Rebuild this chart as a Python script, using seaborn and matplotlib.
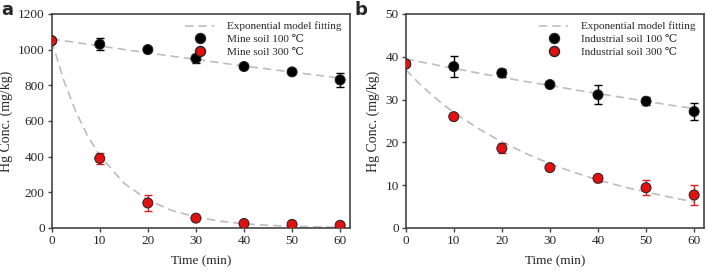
import matplotlib
matplotlib.use("Agg")
import matplotlib.pyplot as plt
import seaborn as sns
import pandas as pd
from matplotlib.lines import Line2D

# measured points (time in min, Hg in mg/kg)
time = [0, 10, 20, 30, 40, 50, 60]

mine_100 = [1050, 1030, 1000, 950, 905, 875, 830]
mine_100_err = [0, 35, 0, 25, 0, 0, 40]
mine_300 = [1050, 390, 140, 55, 25, 20, 15]
mine_300_err = [0, 30, 45, 0, 0, 0, 0]

ind_100 = [38.3, 37.7, 36.2, 33.5, 31.1, 29.6, 27.2]
ind_100_err = [0, 2.4, 1.0, 0, 2.2, 0.9, 1.9]
ind_300 = [38.3, 26.0, 18.6, 14.1, 11.6, 9.4, 7.7]
ind_300_err = [0, 0, 1.2, 0, 0.8, 1.8, 2.3]

# fitted curves
fit_t = [0, 2.5, 5, 7.5, 10, 15, 20, 25, 30, 35, 40, 45, 50, 55, 60]
mine_100_fit = [1060, 1050, 1040, 1030, 1020, 1001, 982, 963, 945, 926, 908, 891, 874, 857, 840]
mine_300_fit = [1050, 828, 653, 515, 406, 252, 157, 98, 61, 38, 23, 15, 9, 6, 3.5]
ind_100_fit = [39.5, 38.9, 38.4, 37.8, 37.3, 36.2, 35.2, 34.2, 33.3, 32.3, 31.4, 30.5, 29.6, 28.7, 27.9]
ind_300_fit = [37.0, 34.1, 31.5, 29.1, 27.0, 23.3, 20.1, 17.4, 15.0, 13.0, 11.2, 9.7, 8.4, 7.2, 6.1]

sns.set_theme(style="white")
plt.rcParams["font.family"] = ["Liberation Serif", "DejaVu Serif", "DejaVu Sans"]

fig = plt.figure(figsize=(7.08, 2.73), dpi=100)
ax_a = fig.add_axes([0.073, 0.165, 0.421, 0.784])
ax_b = fig.add_axes([0.573, 0.165, 0.421, 0.784])

FIT_COLOR = "#bdbdbd"
DASH = (5, 3)


def draw_panel(ax, fit_lo, fit_hi, y100, e100, y300, e300, names, ymax, ystep):
    fits = pd.DataFrame({"t": fit_t * 2, "y": fit_lo + fit_hi,
                         "curve": ["lo"] * len(fit_t) + ["hi"] * len(fit_t)})
    sns.lineplot(data=fits, x="t", y="y", style="curve",
                 dashes={"lo": DASH, "hi": DASH}, estimator=None,
                 color=FIT_COLOR, lw=1.2, ax=ax, zorder=1, legend=False)
    ax.errorbar(time, y100, yerr=e100, fmt="none", ecolor="black",
                elinewidth=1, capsize=3, zorder=2)
    ax.errorbar(time, y300, yerr=e300, fmt="none", ecolor="#d42020",
                elinewidth=1, capsize=3, zorder=2)
    pts = pd.DataFrame({"t": time * 2, "y": y100 + y300,
                        "series": [names[0]] * 7 + [names[1]] * 7})
    sns.scatterplot(data=pts, x="t", y="y", hue="series",
                    palette={names[0]: "black", names[1]: "#e31010"},
                    s=52, edgecolor="#222222", linewidth=0.7, ax=ax,
                    zorder=3, legend=False)

    ax.set_xlim(0, 62)
    ax.set_ylim(0, ymax)
    ax.set_xticks(time)
    ax.set_yticks(range(0, ymax + 1, ystep))
    ax.tick_params(axis="both", direction="out", length=3, width=1,
                   color="#444444", labelsize=9.5, pad=2, bottom=True, left=True)
    for sp in ax.spines.values():
        sp.set_color("#444444")
        sp.set_linewidth(1.2)
    ax.set_xlabel("Time (min)", fontsize=9.5, labelpad=6)
    ax.set_ylabel("Hg Conc. (mg/kg)", fontsize=10, labelpad=4)

    handles = [
        Line2D([], [], color=FIT_COLOR, lw=1.2, dashes=DASH),
        Line2D([], [], marker="o", ls="none", color="black", markersize=7.2,
               markeredgecolor="#222222"),
        Line2D([], [], marker="o", ls="none", color="#e31010", markersize=7.2,
               markeredgecolor="#222222"),
    ]
    ax.legend(handles, ["Exponential model fitting"] + names, loc="upper right",
              frameon=False, fontsize=8, handlelength=2.6, handletextpad=1.2,
              labelspacing=0.25, borderaxespad=0.3)


draw_panel(ax_a, mine_100_fit, mine_300_fit, mine_100, mine_100_err,
           mine_300, mine_300_err, ["Mine soil 100 \u2103", "Mine soil 300 \u2103"],
           1200, 200)
draw_panel(ax_b, ind_100_fit, ind_300_fit, ind_100, ind_100_err,
           ind_300, ind_300_err,
           ["Industrial soil 100 \u2103", "Industrial soil 300 \u2103"],
           50, 10)

for x, letter in [(0.002, "a"), (0.501, "b")]:
    fig.text(x, 0.998, letter, fontsize=13, fontweight="bold",
             family="DejaVu Sans", va="top", ha="left")

fig.savefig("out.png", dpi=100)
